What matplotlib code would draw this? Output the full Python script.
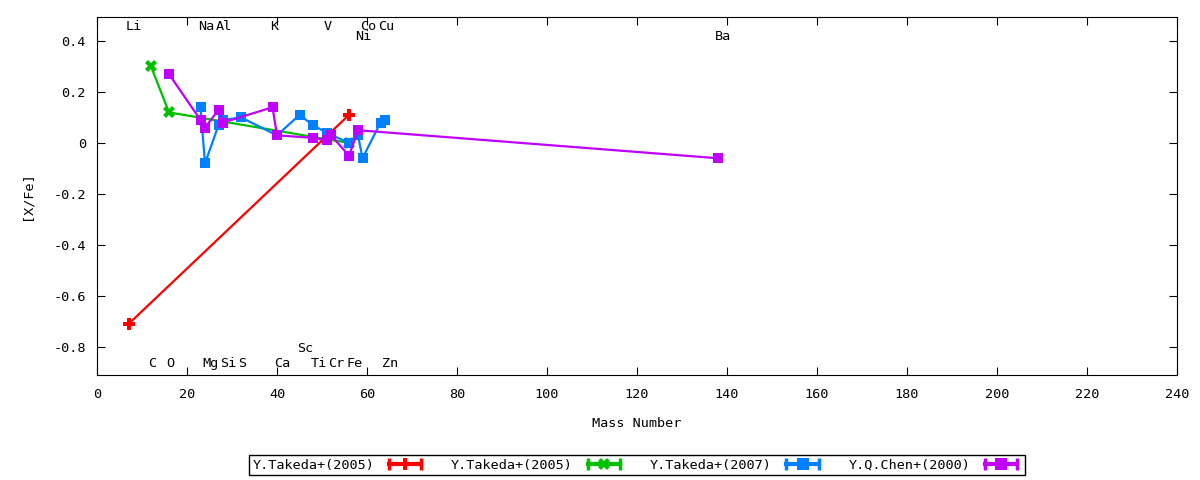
import matplotlib
matplotlib.use("Agg")
import matplotlib.pyplot as plt
from matplotlib.lines import Line2D
from matplotlib.legend_handler import HandlerLine2D, HandlerTuple

plt.rcParams['font.family'] = ['DejaVu Sans Mono']
plt.rcParams['font.size'] = 9.7
plt.rcParams['axes.unicode_minus'] = False

# element labels (mass number) drawn along the top and bottom of the plot
top_elems = ['Li', 'Na', 'Al', 'K', 'V', 'Co', 'Cu']
top_mass = [7, 23, 27, 39, 51, 59, 63]
top2_elems = ['Ni', 'Ba']
top2_mass = [58, 138]
bot_elems = ['C', 'O', 'Mg', 'Si', 'S', 'Ca', 'Ti', 'Cr', 'Fe', 'Zn']
bot_mass = [12, 16, 24, 28, 32, 40, 48, 52, 56, 64]
bot2_elems = ['Sc']
bot2_mass = [45]

# Y.Takeda+(2005) - first set
takeda05a_x = [7, 56]
takeda05a_y = [-0.71, 0.11]
# Y.Takeda+(2005) - second set
takeda05b_x = [12, 16, 56]
takeda05b_y = [0.30, 0.12, 0.00]
# Y.Takeda+(2007)
takeda07_x = [23, 24, 27, 28, 32, 40, 45, 48, 51, 56, 58, 59, 63, 64]
takeda07_y = [0.14, -0.08, 0.07, 0.09, 0.10, 0.03, 0.11, 0.07, 0.04, 0.00,
              0.03, -0.06, 0.08, 0.09]
# Y.Q.Chen+(2000)
chen00_x = [16, 23, 24, 27, 28, 39, 40, 48, 51, 52, 56, 58, 138]
chen00_y = [0.27, 0.09, 0.06, 0.13, 0.08, 0.14, 0.03, 0.02, 0.01, 0.03,
            -0.05, 0.05, -0.06]

series = [
    ('Y.Takeda+(2005)', takeda05a_x, takeda05a_y, '#ff0000', 'P', 8),
    ('Y.Takeda+(2005)', takeda05b_x, takeda05b_y, '#00c000', 'X', 8),
    ('Y.Takeda+(2007)', takeda07_x, takeda07_y, '#0080ff', 's', 7),
    ('Y.Q.Chen+(2000)', chen00_x, chen00_y, '#c000ff', 's', 7),
]


def main():
    fig = plt.figure(figsize=(12, 4.8), dpi=100)
    ax = fig.add_axes([97 / 1200, 1 - 375 / 480, 1080 / 1200, 358 / 480])

    handles = []
    hmap = {}
    for label, xs, ys, col, mk, ms in series:
        ax.plot(xs, ys, color=col, lw=1.6, marker=mk, ms=ms, mew=0)
        ends = Line2D([], [], color=col, lw=3, marker='|', ms=9, mew=2.5)
        mid = Line2D([], [], color='none', marker=mk, ms=ms + 1, mfc=col, mew=0)
        hmap[ends] = HandlerLine2D(numpoints=2)
        hmap[mid] = HandlerLine2D(numpoints=1)
        handles.append((ends, mid))

    for names, masses, y in [(top_elems, top_mass, 0.455),
                             (top2_elems, top2_mass, 0.416),
                             (bot_elems, bot_mass, -0.863),
                             (bot2_elems, bot2_mass, -0.808)]:
        for n, m in zip(names, masses):
            ax.text(m - 0.6, y, n, ha='left', va='center')

    ax.set_xlim(0, 240)
    ax.set_ylim(-0.91, 0.494)
    ax.set_xticks(range(0, 241, 20))
    ax.set_yticks([0.4, 0.2, 0, -0.2, -0.4, -0.6, -0.8])
    ax.set_yticklabels(['0.4', '0.2', '0', '-0.2', '-0.4', '-0.6', '-0.8'])
    ax.tick_params(direction='in', top=True, right=True, length=6)
    ax.tick_params(axis='x', pad=9)
    ax.tick_params(axis='y', pad=8)
    ax.set_xlabel('Mass Number', labelpad=12)
    ax.set_ylabel('[X/Fe]', labelpad=14)

    hmap[tuple] = HandlerTuple(ndivide=1, pad=0)
    leg = fig.legend(handles, [s[0] for s in series], handler_map=hmap,
                     loc='center', bbox_to_anchor=(637 / 1200, 1 - 465 / 480),
                     ncol=4, markerfirst=False, fancybox=False,
                     edgecolor='black', framealpha=1, handlelength=3.0,
                     columnspacing=1.9, borderpad=0.25, handletextpad=0.8)
    leg.get_frame().set_linewidth(1)

    fig.savefig('out.png', dpi=100)


if __name__ == '__main__':
    main()
